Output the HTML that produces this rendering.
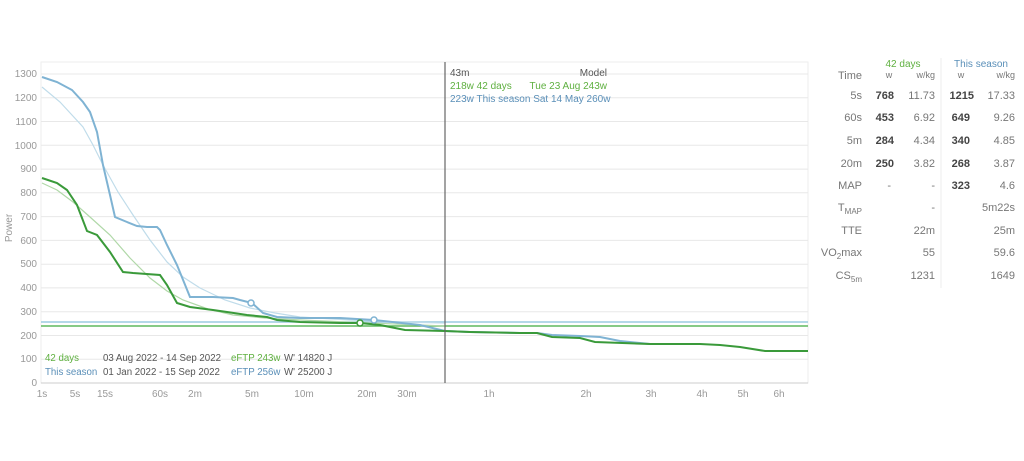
<!DOCTYPE html>
<html><head><meta charset="utf-8"><style>
body{margin:0;width:1024px;height:456px;background:#fff;overflow:hidden;font-family:"Liberation Sans",sans-serif}
svg text{font-family:"Liberation Sans",sans-serif}
</style></head><body>
<svg width="1024" height="456" viewBox="0 0 1024 456" xmlns="http://www.w3.org/2000/svg">
<rect x="41" y="62" width="767" height="321" fill="none" stroke="#eee"/>
<g stroke="#e8e8e8" stroke-width="1">
<line x1="41" x2="808" y1="359.2" y2="359.2"/><line x1="41" x2="808" y1="335.5" y2="335.5"/>
<line x1="41" x2="808" y1="311.7" y2="311.7"/><line x1="41" x2="808" y1="287.9" y2="287.9"/>
<line x1="41" x2="808" y1="264.2" y2="264.2"/><line x1="41" x2="808" y1="240.4" y2="240.4"/>
<line x1="41" x2="808" y1="216.6" y2="216.6"/><line x1="41" x2="808" y1="192.8" y2="192.8"/>
<line x1="41" x2="808" y1="169.1" y2="169.1"/><line x1="41" x2="808" y1="145.3" y2="145.3"/>
<line x1="41" x2="808" y1="121.5" y2="121.5"/><line x1="41" x2="808" y1="97.8" y2="97.8"/>
<line x1="41" x2="808" y1="74" y2="74"/>
</g>
<line x1="41" x2="808" y1="383" y2="383" stroke="#ccc"/>
<g font-size="10" fill="#999" text-anchor="end">
<text x="37" y="386">0</text><text x="37" y="362">100</text><text x="37" y="339">200</text>
<text x="37" y="315">300</text><text x="37" y="291">400</text><text x="37" y="267">500</text>
<text x="37" y="244">600</text><text x="37" y="220">700</text><text x="37" y="196">800</text>
<text x="37" y="172">900</text><text x="37" y="149">1000</text><text x="37" y="125">1100</text>
<text x="37" y="101">1200</text><text x="37" y="77">1300</text>
</g>
<text x="12" y="228" font-size="10" fill="#999" transform="rotate(-90 12 228)" text-anchor="middle">Power</text>
<g font-size="10" fill="#999" text-anchor="middle">
<text x="42" y="397">1s</text><text x="75" y="397">5s</text><text x="105" y="397">15s</text>
<text x="160" y="397">60s</text><text x="195" y="397">2m</text><text x="252" y="397">5m</text>
<text x="304" y="397">10m</text><text x="367" y="397">20m</text><text x="407" y="397">30m</text>
<text x="489" y="397">1h</text><text x="586" y="397">2h</text><text x="651" y="397">3h</text>
<text x="702" y="397">4h</text><text x="743" y="397">5h</text><text x="779" y="397">6h</text>
</g>
<line x1="41" x2="808" y1="322" y2="322" stroke="#9ccbe0" stroke-width="1.5"/>
<line x1="41" x2="808" y1="326" y2="326" stroke="#5fb85f" stroke-width="1.5"/>
<polyline fill="none" stroke="#c0dcea" stroke-width="1.2" points="42,87 60,102 83,127 93,145 103,165 118,192 133,215 150,240 167,262 183,277 200,288 225,300 250,308 275,313 300,317 350,320 400,322 445,323"/>
<polyline fill="none" stroke="#b0d8a8" stroke-width="1.2" points="42,183 57,190 73,202 90,217 110,235 130,258 150,278 167,291 183,300 208,309 233,315 265,318 300,320 370,323 445,326"/>
<polyline fill="none" stroke="#7fb3d3" stroke-width="2" points="42,77 57,82 72,90 83,102 90,112 97,132 103,165 110,195 115,217 127,222 137,226 147,227 157,227 160,230 167,245 177,265 190,297 213,297 233,298 240,300 252,303 263,313 277,317 300,318 340,318 374,320 420,325 445,331 470,332 520,333 537,333 552,335 580,336 600,337 620,341 650,344"/>
<polyline fill="none" stroke="#3a9a3a" stroke-width="2" points="42,178 57,183 67,190 77,205 87,231 97,235 110,252 123,272 133,273 160,275 167,285 177,303 190,307 213,310 227,312 247,315 267,317 277,320 300,322 340,323 360,323 380,325 405,330 445,331 470,332 520,333 537,333 552,337 580,338 595,342 650,344 700,344 720,345 740,347 765,351 808,351"/>
<circle cx="251" cy="303" r="3" fill="#fff" stroke="#7fb3d3" stroke-width="1.5"/>
<circle cx="374" cy="320" r="3" fill="#fff" stroke="#7fb3d3" stroke-width="1.5"/>
<circle cx="360" cy="323" r="3" fill="#fff" stroke="#3a9a3a" stroke-width="1.5"/>
<line x1="445" x2="445" y1="62" y2="383" stroke="#666" stroke-width="1.2"/>
<g font-size="10">
<text x="450" y="76" fill="#555">43m</text><text x="607" y="76" fill="#555" text-anchor="end">Model</text>
<text x="450" y="89" fill="#5fb040">218w  42 days</text><text x="607" y="89" fill="#5fb040" text-anchor="end">Tue 23 Aug 243w</text>
<text x="450" y="102" fill="#5a8fb8">223w  This season Sat 14 May  260w</text>
</g>
<g font-size="9.7">
<text x="45" y="361" fill="#5fb040">42 days</text><text x="103" y="361" fill="#555">03 Aug 2022 - 14 Sep 2022</text>
<text x="231" y="361" fill="#5fb040">eFTP 243w</text><text x="284" y="361" fill="#555">W' 14820 J</text>
<text x="45" y="375" fill="#5a8fb8">This season</text><text x="103" y="375" fill="#555">01 Jan 2022  - 15 Sep 2022</text>
<text x="231" y="375" fill="#5a8fb8">eFTP 256w</text><text x="284" y="375" fill="#555">W' 25200 J</text>
</g>
<line x1="941" x2="941" y1="58" y2="288" stroke="#eee"/>
<g font-size="11" fill="#777">
<text x="903" y="67" fill="#5fb040" text-anchor="middle" font-size="10">42 days</text>
<text x="981" y="67" fill="#5a8fb8" text-anchor="middle" font-size="10">This season</text>
<text x="862" y="79" text-anchor="end">Time</text>
<text x="889" y="78" text-anchor="middle" font-size="9">w</text><text x="935" y="78" text-anchor="end" font-size="9">w/kg</text>
<text x="961" y="78" text-anchor="middle" font-size="9">w</text><text x="1015" y="78" text-anchor="end" font-size="9">w/kg</text>
<g text-anchor="end">
<text x="862" y="99">5s</text><text x="862" y="121">60s</text><text x="862" y="144">5m</text><text x="862" y="167">20m</text><text x="862" y="189">MAP</text>
<text x="862" y="211">T<tspan font-size="8" dy="3">MAP</tspan></text><text x="862" y="234">TTE</text>
<text x="862" y="256">VO<tspan font-size="8" dy="3">2</tspan><tspan dy="-3">max</tspan></text>
<text x="862" y="279">CS<tspan font-size="8" dy="3">5m</tspan></text>
<g fill="#444" font-weight="bold"><text x="894" y="99">768</text><text x="894" y="121">453</text><text x="894" y="144">284</text><text x="894" y="167">250</text>
<text x="974" y="99">1215</text><text x="970" y="121">649</text><text x="970" y="144">340</text><text x="970" y="167">268</text><text x="970" y="189">323</text></g>
<text x="891" y="189">-</text>
<text x="935" y="99">11.73</text><text x="935" y="121">6.92</text><text x="935" y="144">4.34</text><text x="935" y="167">3.82</text><text x="935" y="189">-</text>
<text x="935" y="211">-</text><text x="935" y="234">22m</text><text x="935" y="256">55</text><text x="935" y="279">1231</text>
<text x="1015" y="99">17.33</text><text x="1015" y="121">9.26</text><text x="1015" y="144">4.85</text><text x="1015" y="167">3.87</text><text x="1015" y="189">4.6</text>
<text x="1015" y="211">5m22s</text><text x="1015" y="234">25m</text><text x="1015" y="256">59.6</text><text x="1015" y="279">1649</text>
</g></g>
</svg>
</body></html>
